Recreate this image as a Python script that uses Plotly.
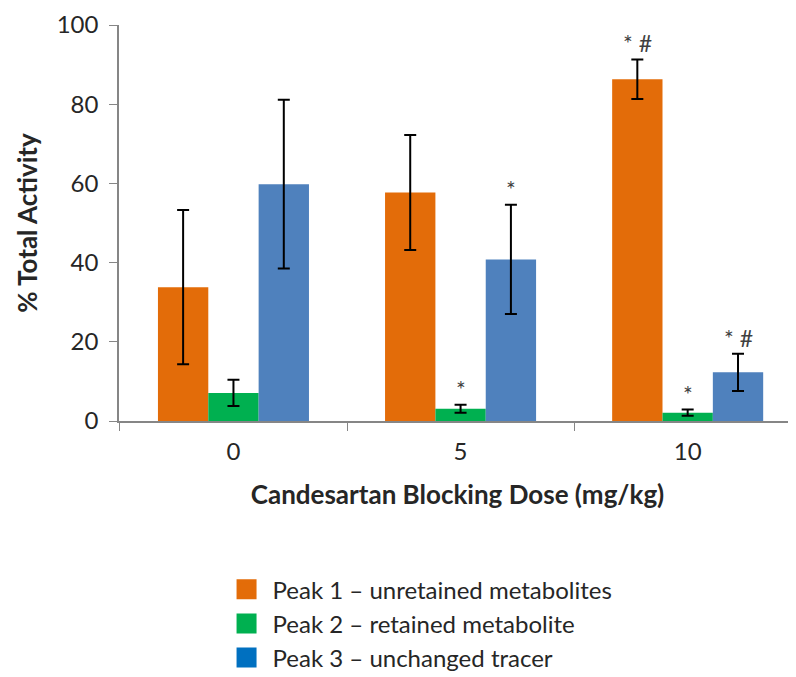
import plotly.graph_objects as go

categories = ["0", "5", "10"]
series_names = ["Peak 1 – unretained metabolites", "Peak 2 – retained metabolite", "Peak 3 – unchanged tracer"]
peak1 = [33.8, 57.7, 86.3]
peak1_err = [19.5, 14.5, 5.0]
peak2 = [7.1, 3.1, 2.1]
peak2_err = [3.3, 1.0, 0.8]
peak3 = [59.8, 40.8, 12.3]
peak3_err = [21.3, 13.8, 4.7]
bar_colors = ["#E36C09", "#00B050", "#4F81BD"]
legend_colors = ["#E36C09", "#00B050", "#0070C0"]
# significance marks per series per category
marks = [["", "", "* #"], ["", "*", "*"], ["", "*", "* #"]]

FONT = "Lato"
values = [peak1, peak2, peak3]
errors = [peak1_err, peak2_err, peak3_err]
bargap = 0.335

fig = go.Figure()
for name, v, e, c in zip(series_names, values, errors, bar_colors):
    fig.add_trace(go.Bar(
        x=categories, y=v, name=name, marker_color=c, marker_line_width=0,
        error_y=dict(type="data", array=e, color="black", thickness=2, width=6),
        showlegend=False,
    ))
for i, (name, c) in enumerate(zip(series_names, legend_colors)):
    fig.add_trace(go.Scatter(
        x=[None], y=[None], mode="markers", name=name, legendgroup=f"g{i}",
        marker=dict(symbol="square", size=20, color=c, line=dict(color=c, width=4)),
    ))

bw = (1 - bargap) / len(values)
annotations = []
for si, (v, e, m) in enumerate(zip(values, errors, marks)):
    off = (si - (len(values) - 1) / 2) * bw
    for ci in range(len(categories)):
        if m[ci]:
            annotations.append(dict(
                x=ci + off, y=v[ci] + e[ci], xref="x", yref="y", text=m[ci],
                showarrow=False, yanchor="bottom", yshift=0,
                font=dict(family=FONT, size=23, color="#404040"),
            ))

fig.update_layout(
    width=788, height=700,
    margin=dict(l=111, r=0, t=17, b=287, autoexpand=False),
    plot_bgcolor="white", paper_bgcolor="white",
    barmode="group", bargap=bargap, bargroupgap=0,
    font=dict(family=FONT, size=24, color="#262626"),
    annotations=annotations,
    showlegend=True,
    legend=dict(x=0.15, y=-0.369, xanchor="left", yanchor="top",
                font=dict(family=FONT, size=24, color="#262626"),
                tracegroupgap=0, itemsizing="trace", itemwidth=42),
    xaxis=dict(
        type="category", range=[-0.504, 2.477], showline=True, linecolor="#868686", linewidth=1.5,
        ticks="outside", tickson="boundaries", ticklen=8, tickcolor="#868686",
        showgrid=False, tickfont=dict(size=24), automargin=False, ticklabelstandoff=8,
        title=dict(text="<b>Candesartan Blocking Dose (mg/kg)</b>", font=dict(size=26), standoff=22),
    ),
    yaxis=dict(
        range=[0, 100], dtick=20, showline=True, linecolor="#868686", linewidth=1.5,
        ticks="outside", ticklen=8, tickcolor="#868686", showgrid=False, zeroline=False,
        tickfont=dict(size=24), automargin=False, ticklabelstandoff=6,
        title=dict(text="<b>% Total Activity</b>", font=dict(size=26), standoff=12),
    ),
)

fig.write_html("out.html")
